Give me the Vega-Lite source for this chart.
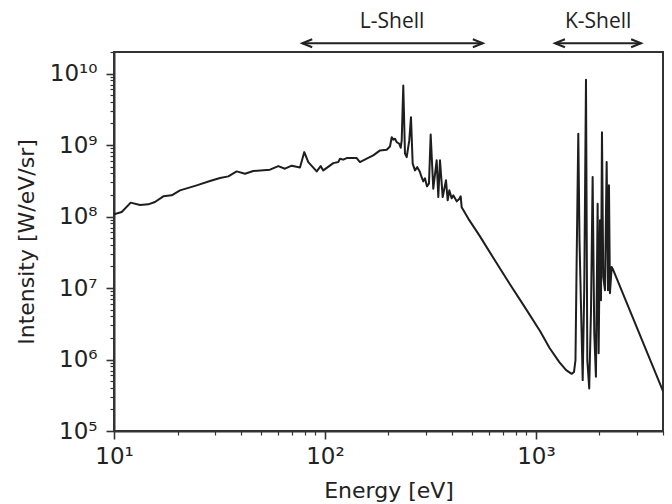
{
  "$schema": "https://vega.github.io/schema/vega-lite/v6.json",
  "width": 549,
  "height": 379,
  "autosize": {"type": "none"},
  "padding": {"left": 114, "top": 52, "right": 9, "bottom": 73},
  "background": "white",
  "view": {"stroke": "#333", "strokeWidth": 2},
  "config": {
    "axis": {
      "domainColor": "#333",
      "domainWidth": 2,
      "tickColor": "#333",
      "grid": false,
      "labelFont": "DejaVu Sans",
      "labelFontSize": 23,
      "labelColor": "#222",
      "labelOverlap": false,
      "labelFlush": false,
      "labelBound": false,
      "titleFont": "DejaVu Sans",
      "titleFontSize": 22,
      "titleFontWeight": "normal",
      "titleColor": "#222"
    }
  },
  "datasets": {
    "spectrum": [
      {"E": 10, "I": 1.074e8},
      {"E": 10.88, "I": 1.156e8},
      {"E": 12.0, "I": 1.563e8},
      {"E": 13.28, "I": 1.449e8},
      {"E": 14.54, "I": 1.479e8},
      {"E": 15.64, "I": 1.596e8},
      {"E": 17.13, "I": 1.914e8},
      {"E": 18.77, "I": 1.977e8},
      {"E": 20.55, "I": 2.323e8},
      {"E": 24.66, "I": 2.729e8},
      {"E": 28.51, "I": 3.133e8},
      {"E": 31.8, "I": 3.451e8},
      {"E": 34.82, "I": 3.641e8},
      {"E": 38.15, "I": 4.276e8},
      {"E": 41.78, "I": 3.973e8},
      {"E": 45.73, "I": 4.32e8},
      {"E": 54.87, "I": 4.518e8},
      {"E": 60.07, "I": 5.07e8},
      {"E": 64.63, "I": 4.665e8},
      {"E": 69.54, "I": 5.14e8},
      {"E": 76.12, "I": 4.86e8},
      {"E": 79.78, "I": 7.96e8},
      {"E": 83.35, "I": 5.77e8},
      {"E": 91.35, "I": 4.276e8},
      {"E": 95.41, "I": 5.07e8},
      {"E": 98.15, "I": 4.416e8},
      {"E": 109.5, "I": 5.585e8},
      {"E": 115.6, "I": 5.77e8},
      {"E": 117.8, "I": 6.44e8},
      {"E": 122.1, "I": 6.24e8},
      {"E": 126.7, "I": 6.56e8},
      {"E": 141.3, "I": 6.56e8},
      {"E": 146.5, "I": 5.77e8},
      {"E": 157.6, "I": 6.44e8},
      {"E": 169.4, "I": 7.16e8},
      {"E": 182.3, "I": 8.41e8},
      {"E": 196.1, "I": 8.59e8},
      {"E": 203.3, "I": 9.55e8},
      {"E": 207.1, "I": 1.288e9},
      {"E": 210.8, "I": 1.186e9},
      {"E": 214.7, "I": 1.225e9},
      {"E": 218.7, "I": 1.098e9},
      {"E": 224.9, "I": 1.042e9},
      {"E": 228.5, "I": 9.16e8},
      {"E": 231.0, "I": 1.159e9},
      {"E": 235.0, "I": 6.79e9},
      {"E": 239.4, "I": 7.57e8},
      {"E": 243.9, "I": 6.78e8},
      {"E": 250.9, "I": 1.159e9},
      {"E": 255.6, "I": 2.455e9},
      {"E": 260.4, "I": 5.48e8},
      {"E": 267.0, "I": 4.416e8},
      {"E": 273.8, "I": 4.91e8},
      {"E": 281.9, "I": 4.19e8},
      {"E": 285.1, "I": 3.76e8},
      {"E": 292.3, "I": 3.1e8},
      {"E": 297.8, "I": 3.42e8},
      {"E": 304.3, "I": 2.64e8},
      {"E": 311.1, "I": 2.91e8},
      {"E": 316.9, "I": 1.406e9},
      {"E": 326.0, "I": 2.45e8},
      {"E": 338.3, "I": 6.1e8},
      {"E": 344.4, "I": 1.871e8},
      {"E": 350.8, "I": 6.1e8},
      {"E": 361.3, "I": 1.871e8},
      {"E": 374.6, "I": 3.21e8},
      {"E": 381.6, "I": 1.683e8},
      {"E": 388.3, "I": 2.323e8},
      {"E": 398.6, "I": 1.795e8},
      {"E": 405.5, "I": 1.977e8},
      {"E": 421.0, "I": 1.63e8},
      {"E": 431.7, "I": 1.738e8},
      {"E": 439.7, "I": 1.914e8},
      {"E": 444.5, "I": 1.343e8},
      {"E": 477.6, "I": 9.35e7},
      {"E": 540, "I": 5.4e7},
      {"E": 635, "I": 2.5e7},
      {"E": 750, "I": 1.15e7},
      {"E": 885, "I": 5.4e6},
      {"E": 1045, "I": 2.5e6},
      {"E": 1160, "I": 1.45e6},
      {"E": 1290, "I": 9.2e5},
      {"E": 1390, "I": 7.1e5},
      {"E": 1476, "I": 6.3e5},
      {"E": 1514, "I": 6.67e5},
      {"E": 1539, "I": 9.82e5},
      {"E": 1559, "I": 2.44e7},
      {"E": 1587, "I": 1.439e9},
      {"E": 1608, "I": 4.66e7},
      {"E": 1665, "I": 5.15e5},
      {"E": 1694, "I": 1.035e7},
      {"E": 1726, "I": 8.17e9},
      {"E": 1751, "I": 9.82e5},
      {"E": 1788, "I": 3.94e5},
      {"E": 1822, "I": 4.45e6},
      {"E": 1856, "I": 3.56e8},
      {"E": 1889, "I": 2.34e6},
      {"E": 1924, "I": 5.73e5},
      {"E": 1960, "I": 1.514e8},
      {"E": 1982, "I": 1.227e6},
      {"E": 2011, "I": 8.85e7},
      {"E": 2033, "I": 6.76e6},
      {"E": 2055, "I": 1.514e9},
      {"E": 2084, "I": 1.429e7},
      {"E": 2123, "I": 9.31e6},
      {"E": 2163, "I": 5.77e8},
      {"E": 2194, "I": 9.31e6},
      {"E": 2218, "I": 2.73e8},
      {"E": 2242, "I": 8.45e6},
      {"E": 2285, "I": 1.972e7},
      {"E": 2325, "I": 1.774e7},
      {"E": 4000, "I": 3.62e5}
    ],
    "shells": [
      {"label": "L-Shell", "start": 78, "end": 560, "mid": 208, "y": 2.65e10},
      {"label": "K-Shell", "start": 1230, "end": 3150, "mid": 1970, "y": 2.65e10}
    ]
  },
  "layer": [
    {
      "data": {"name": "spectrum"},
      "mark": {"type": "line", "color": "#1e1e1e", "strokeWidth": 2, "strokeJoin": "round", "clip": true},
      "encoding": {
        "x": {
          "field": "E", "type": "quantitative",
          "scale": {"type": "log", "domain": [10, 4000], "nice": false},
          "axis": {
            "title": "Energy [eV]",
            "values": [10, 20, 30, 40, 50, 60, 70, 80, 90, 100, 200, 300, 400, 500, 600, 700, 800, 900, 1000, 2000, 3000, 4000],
            "labelExpr": "datum.value == 10 ? '10¹' : datum.value == 100 ? '10²' : datum.value == 1000 ? '10³' : ''",
            "tickSize": {"condition": {"test": "abs(log(datum.value)/LN10 - round(log(datum.value)/LN10)) < 0.001", "value": 8}, "value": 4},
            "tickWidth": {"condition": {"test": "abs(log(datum.value)/LN10 - round(log(datum.value)/LN10)) < 0.001", "value": 1.6}, "value": 1.2},
            "labelPadding": 6,
            "titlePadding": 12
          }
        },
        "y": {
          "field": "I", "type": "quantitative",
          "scale": {"type": "log", "domain": [1e5, 2e10], "nice": false},
          "axis": {
            "title": "Intensity [W/eV/sr]",
            "values": [1e5, 2e5, 3e5, 4e5, 5e5, 6e5, 7e5, 8e5, 9e5, 1e6, 2e6, 3e6, 4e6, 5e6, 6e6, 7e6, 8e6, 9e6, 1e7, 2e7, 3e7, 4e7, 5e7, 6e7, 7e7, 8e7, 9e7, 1e8, 2e8, 3e8, 4e8, 5e8, 6e8, 7e8, 8e8, 9e8, 1e9, 2e9, 3e9, 4e9, 5e9, 6e9, 7e9, 8e9, 9e9, 1e10, 2e10],
            "labelExpr": "datum.value == 1e5 ? '10⁵' : datum.value == 1e6 ? '10⁶' : datum.value == 1e7 ? '10⁷' : datum.value == 1e8 ? '10⁸' : datum.value == 1e9 ? '10⁹' : datum.value == 1e10 ? '10¹⁰' : ''",
            "tickSize": {"condition": {"test": "abs(log(datum.value)/LN10 - round(log(datum.value)/LN10)) < 0.001", "value": 8}, "value": 4},
            "tickWidth": {"condition": {"test": "abs(log(datum.value)/LN10 - round(log(datum.value)/LN10)) < 0.001", "value": 1.6}, "value": 1.2},
            "labelPadding": 9,
            "titlePadding": 11
          }
        }
      }
    },
    {
      "data": {"name": "shells"},
      "mark": {"type": "rule", "color": "#222", "strokeWidth": 2},
      "encoding": {
        "x": {"field": "start", "type": "quantitative"},
        "x2": {"field": "end"},
        "y": {"field": "y", "type": "quantitative"}
      }
    },
    {
      "data": {"name": "shells"},
      "mark": {"type": "point", "shape": "M2,-0.8L0,0L2,0.8", "size": 100, "filled": false, "stroke": "#222", "strokeWidth": 2, "opacity": 1},
      "encoding": {
        "x": {"field": "start", "type": "quantitative"},
        "y": {"field": "y", "type": "quantitative"}
      }
    },
    {
      "data": {"name": "shells"},
      "mark": {"type": "point", "shape": "M-2,-0.8L0,0L-2,0.8", "size": 100, "filled": false, "stroke": "#222", "strokeWidth": 2, "opacity": 1},
      "encoding": {
        "x": {"field": "end", "type": "quantitative"},
        "y": {"field": "y", "type": "quantitative"}
      }
    },
    {
      "data": {"name": "shells"},
      "mark": {"type": "text", "font": "Open Sans", "fontSize": 21, "color": "#222", "baseline": "middle", "align": "center", "dy": -21},
      "encoding": {
        "x": {"field": "mid", "type": "quantitative"},
        "y": {"field": "y", "type": "quantitative"},
        "text": {"field": "label"}
      }
    }
  ]
}
